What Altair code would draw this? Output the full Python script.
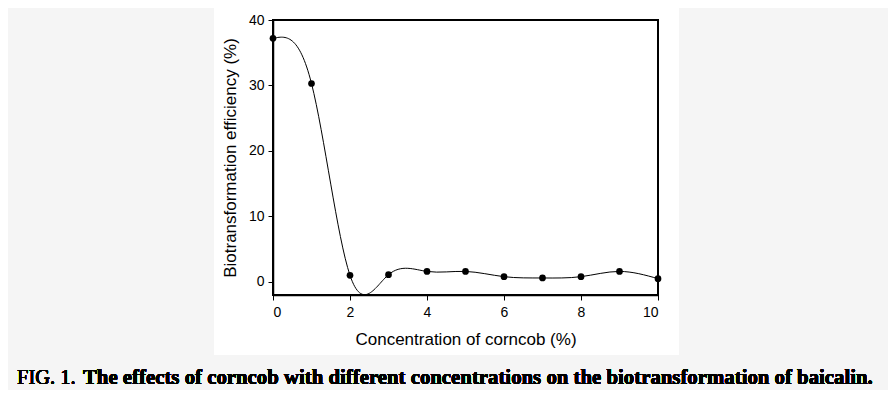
import altair as alt
import pandas as pd

conc = [0, 1, 2, 3, 4, 5, 6, 7, 8, 9, 10]
eff = [37.2, 30.3, 1.0, 1.1, 1.6, 1.6, 0.8, 0.6, 0.8, 1.6, 0.5]
x_ticks = [0, 2, 4, 6, 8, 10]
y_ticks = [0, 10, 20, 30, 40]
caption_a = "FIG. 1."
caption_b = "The effects of corncob with different concentrations on the biotransformation of baicalin."

df = pd.DataFrame({"conc": conc, "eff": eff})

x = alt.X("conc:Q", scale=alt.Scale(domain=[0, 10], nice=False),
          axis=alt.Axis(values=x_ticks, title="Concentration of corncob (%)", grid=False,
                        titlePadding=12, labelPadding=5, zindex=2))
y = alt.Y("eff:Q", scale=alt.Scale(domain=[-2, 40], nice=False, zero=False),
          axis=alt.Axis(values=y_ticks, title="Biotransformation efficiency (%)", grid=False,
                        titlePadding=9, labelPadding=4, zindex=2))

bg = alt.Chart(df).mark_rect(fill="white", clip=False).encode(
    x=alt.value(-59), x2=alt.value(406), y=alt.value(-12), y2=alt.value(335))

frame = alt.Chart(df).mark_rect(fillOpacity=0, stroke="black", strokeWidth=1.5, clip=False).encode(
    x=alt.value(0), x2=alt.value(385), y=alt.value(0), y2=alt.value(275))

line = alt.Chart(df).mark_line(interpolate="natural", color="black", strokeWidth=1).encode(x=x, y=y)
pts = alt.Chart(df).mark_point(filled=True, color="black", size=45, opacity=1).encode(x=x, y=y)

cap1 = alt.Chart(df).mark_text(text=caption_a, font="Liberation Serif", fontSize=20.5, fontWeight="normal",
                               align="left", baseline="alphabetic", color="black").encode(
    x=alt.value(-256), y=alt.value(364))
cap2 = alt.Chart(df).mark_text(text=caption_b, font="Liberation Serif", fontSize=20.8, fontWeight="bold",
                               align="left", baseline="alphabetic", color="black").encode(
    x=alt.value(-190), y=alt.value(364))

chart = alt.layer(bg, frame, line, pts, cap1, cap2).properties(
    width=385, height=275,
    autosize=alt.AutoSizeParams(type="none"),
    padding={"left": 265, "top": 12, "right": 230, "bottom": 95},
    background="#f5f5f5",
).configure_view(strokeWidth=0).configure_axis(
    domainColor="black", domainWidth=1.5, tickColor="black", tickSize=5,
    labelFont="Liberation Sans", labelFontSize=14, labelColor="black",
    titleFont="Liberation Sans", titleFontSize=17, titleFontWeight="normal", titleColor="black",
)

chart.save("out.html", embed_options={"renderer": "svg", "actions": False})
